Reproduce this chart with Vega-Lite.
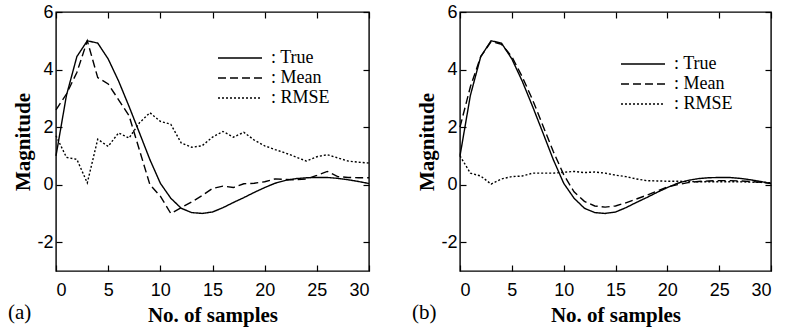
{
  "$schema": "https://vega.github.io/schema/vega-lite/v6.json",
  "padding": {"left": 7, "top": 2, "right": 4, "bottom": 4},
  "background": "white",
  "config": {
    "view": {"stroke": "black", "strokeWidth": 1.4},
    "axis": {
      "labelFont": "Liberation Sans", "labelFontSize": 18, "labelColor": "black",
      "titleFont": "Liberation Serif", "titleFontSize": 21, "titleFontWeight": "bold", "titleColor": "black",
      "tickColor": "black", "tickWidth": 1.2, "tickSize": -6, "domain": false, "grid": false,
      "labelExpr": "'' + datum.value"
    },
    "legend": {
      "orient": "none", "title": null, "padding": 0,
      "symbolType": "stroke", "symbolSize": 1936, "symbolStrokeWidth": 1.6, "symbolStrokeColor": "black",
      "clipHeight": 20, "rowPadding": 0, "labelOffset": 8,
      "labelFont": "Liberation Serif", "labelFontSize": 18, "labelColor": "black"
    },
    "title": {"font": "Liberation Serif", "fontSize": 21, "fontWeight": "normal", "color": "black"}
  },
  "data": {"values": [
    {"p":"a","s":"True","n":0,"v":1.0},{"p":"a","s":"True","n":1,"v":3.1},{"p":"a","s":"True","n":2,"v":4.45},{"p":"a","s":"True","n":3,"v":5.0},{"p":"a","s":"True","n":4,"v":4.92},{"p":"a","s":"True","n":5,"v":4.37},{"p":"a","s":"True","n":6,"v":3.6},{"p":"a","s":"True","n":7,"v":2.72},{"p":"a","s":"True","n":8,"v":1.8},{"p":"a","s":"True","n":9,"v":0.87},{"p":"a","s":"True","n":10,"v":0.05},{"p":"a","s":"True","n":11,"v":-0.47},{"p":"a","s":"True","n":12,"v":-0.82},{"p":"a","s":"True","n":13,"v":-0.97},{"p":"a","s":"True","n":14,"v":-1.0},{"p":"a","s":"True","n":15,"v":-0.95},{"p":"a","s":"True","n":16,"v":-0.8},{"p":"a","s":"True","n":17,"v":-0.62},{"p":"a","s":"True","n":18,"v":-0.45},{"p":"a","s":"True","n":19,"v":-0.27},{"p":"a","s":"True","n":20,"v":-0.1},{"p":"a","s":"True","n":21,"v":0.05},{"p":"a","s":"True","n":22,"v":0.15},{"p":"a","s":"True","n":23,"v":0.21},{"p":"a","s":"True","n":24,"v":0.24},{"p":"a","s":"True","n":25,"v":0.25},{"p":"a","s":"True","n":26,"v":0.25},{"p":"a","s":"True","n":27,"v":0.22},{"p":"a","s":"True","n":28,"v":0.17},{"p":"a","s":"True","n":29,"v":0.11},{"p":"a","s":"True","n":30,"v":0.04},
    {"p":"a","s":"Mean","n":0,"v":2.6},{"p":"a","s":"Mean","n":1,"v":3.15},{"p":"a","s":"Mean","n":2,"v":3.9},{"p":"a","s":"Mean","n":3,"v":5.0},{"p":"a","s":"Mean","n":4,"v":3.72},{"p":"a","s":"Mean","n":5,"v":3.5},{"p":"a","s":"Mean","n":6,"v":2.95},{"p":"a","s":"Mean","n":7,"v":2.4},{"p":"a","s":"Mean","n":8,"v":1.2},{"p":"a","s":"Mean","n":9,"v":0.0},{"p":"a","s":"Mean","n":10,"v":-0.4},{"p":"a","s":"Mean","n":11,"v":-1.0},{"p":"a","s":"Mean","n":12,"v":-0.8},{"p":"a","s":"Mean","n":13,"v":-0.6},{"p":"a","s":"Mean","n":14,"v":-0.38},{"p":"a","s":"Mean","n":15,"v":-0.13},{"p":"a","s":"Mean","n":16,"v":-0.05},{"p":"a","s":"Mean","n":17,"v":-0.1},{"p":"a","s":"Mean","n":18,"v":0.03},{"p":"a","s":"Mean","n":19,"v":0.05},{"p":"a","s":"Mean","n":20,"v":0.1},{"p":"a","s":"Mean","n":21,"v":0.2},{"p":"a","s":"Mean","n":22,"v":0.18},{"p":"a","s":"Mean","n":23,"v":0.17},{"p":"a","s":"Mean","n":24,"v":0.2},{"p":"a","s":"Mean","n":25,"v":0.32},{"p":"a","s":"Mean","n":26,"v":0.46},{"p":"a","s":"Mean","n":27,"v":0.28},{"p":"a","s":"Mean","n":28,"v":0.25},{"p":"a","s":"Mean","n":29,"v":0.24},{"p":"a","s":"Mean","n":30,"v":0.24},
    {"p":"a","s":"RMSE","n":0,"v":1.7},{"p":"a","s":"RMSE","n":1,"v":0.95},{"p":"a","s":"RMSE","n":2,"v":0.88},{"p":"a","s":"RMSE","n":3,"v":0.06},{"p":"a","s":"RMSE","n":4,"v":1.58},{"p":"a","s":"RMSE","n":5,"v":1.33},{"p":"a","s":"RMSE","n":6,"v":1.8},{"p":"a","s":"RMSE","n":7,"v":1.62},{"p":"a","s":"RMSE","n":8,"v":2.15},{"p":"a","s":"RMSE","n":9,"v":2.5},{"p":"a","s":"RMSE","n":10,"v":2.2},{"p":"a","s":"RMSE","n":11,"v":2.1},{"p":"a","s":"RMSE","n":12,"v":1.45},{"p":"a","s":"RMSE","n":13,"v":1.3},{"p":"a","s":"RMSE","n":14,"v":1.35},{"p":"a","s":"RMSE","n":15,"v":1.65},{"p":"a","s":"RMSE","n":16,"v":1.85},{"p":"a","s":"RMSE","n":17,"v":1.65},{"p":"a","s":"RMSE","n":18,"v":1.82},{"p":"a","s":"RMSE","n":19,"v":1.55},{"p":"a","s":"RMSE","n":20,"v":1.35},{"p":"a","s":"RMSE","n":21,"v":1.22},{"p":"a","s":"RMSE","n":22,"v":1.1},{"p":"a","s":"RMSE","n":23,"v":0.96},{"p":"a","s":"RMSE","n":24,"v":0.82},{"p":"a","s":"RMSE","n":25,"v":0.97},{"p":"a","s":"RMSE","n":26,"v":1.04},{"p":"a","s":"RMSE","n":27,"v":0.93},{"p":"a","s":"RMSE","n":28,"v":0.82},{"p":"a","s":"RMSE","n":29,"v":0.78},{"p":"a","s":"RMSE","n":30,"v":0.75},
    {"p":"b","s":"True","n":0,"v":1.0},{"p":"b","s":"True","n":1,"v":3.1},{"p":"b","s":"True","n":2,"v":4.45},{"p":"b","s":"True","n":3,"v":5.0},{"p":"b","s":"True","n":4,"v":4.92},{"p":"b","s":"True","n":5,"v":4.37},{"p":"b","s":"True","n":6,"v":3.6},{"p":"b","s":"True","n":7,"v":2.72},{"p":"b","s":"True","n":8,"v":1.8},{"p":"b","s":"True","n":9,"v":0.87},{"p":"b","s":"True","n":10,"v":0.05},{"p":"b","s":"True","n":11,"v":-0.47},{"p":"b","s":"True","n":12,"v":-0.82},{"p":"b","s":"True","n":13,"v":-0.97},{"p":"b","s":"True","n":14,"v":-1.0},{"p":"b","s":"True","n":15,"v":-0.95},{"p":"b","s":"True","n":16,"v":-0.8},{"p":"b","s":"True","n":17,"v":-0.62},{"p":"b","s":"True","n":18,"v":-0.45},{"p":"b","s":"True","n":19,"v":-0.27},{"p":"b","s":"True","n":20,"v":-0.1},{"p":"b","s":"True","n":21,"v":0.05},{"p":"b","s":"True","n":22,"v":0.15},{"p":"b","s":"True","n":23,"v":0.21},{"p":"b","s":"True","n":24,"v":0.24},{"p":"b","s":"True","n":25,"v":0.25},{"p":"b","s":"True","n":26,"v":0.25},{"p":"b","s":"True","n":27,"v":0.22},{"p":"b","s":"True","n":28,"v":0.17},{"p":"b","s":"True","n":29,"v":0.11},{"p":"b","s":"True","n":30,"v":0.04},
    {"p":"b","s":"Mean","n":0,"v":2.0},{"p":"b","s":"Mean","n":1,"v":3.4},{"p":"b","s":"Mean","n":2,"v":4.45},{"p":"b","s":"Mean","n":3,"v":4.97},{"p":"b","s":"Mean","n":4,"v":4.88},{"p":"b","s":"Mean","n":5,"v":4.45},{"p":"b","s":"Mean","n":6,"v":3.75},{"p":"b","s":"Mean","n":7,"v":2.95},{"p":"b","s":"Mean","n":8,"v":2.05},{"p":"b","s":"Mean","n":9,"v":1.15},{"p":"b","s":"Mean","n":10,"v":0.35},{"p":"b","s":"Mean","n":11,"v":-0.25},{"p":"b","s":"Mean","n":12,"v":-0.58},{"p":"b","s":"Mean","n":13,"v":-0.74},{"p":"b","s":"Mean","n":14,"v":-0.78},{"p":"b","s":"Mean","n":15,"v":-0.74},{"p":"b","s":"Mean","n":16,"v":-0.63},{"p":"b","s":"Mean","n":17,"v":-0.5},{"p":"b","s":"Mean","n":18,"v":-0.37},{"p":"b","s":"Mean","n":19,"v":-0.22},{"p":"b","s":"Mean","n":20,"v":-0.08},{"p":"b","s":"Mean","n":21,"v":0.0},{"p":"b","s":"Mean","n":22,"v":0.07},{"p":"b","s":"Mean","n":23,"v":0.11},{"p":"b","s":"Mean","n":24,"v":0.13},{"p":"b","s":"Mean","n":25,"v":0.14},{"p":"b","s":"Mean","n":26,"v":0.14},{"p":"b","s":"Mean","n":27,"v":0.13},{"p":"b","s":"Mean","n":28,"v":0.11},{"p":"b","s":"Mean","n":29,"v":0.08},{"p":"b","s":"Mean","n":30,"v":0.04},
    {"p":"b","s":"RMSE","n":0,"v":1.0},{"p":"b","s":"RMSE","n":1,"v":0.4},{"p":"b","s":"RMSE","n":2,"v":0.3},{"p":"b","s":"RMSE","n":3,"v":0.02},{"p":"b","s":"RMSE","n":4,"v":0.2},{"p":"b","s":"RMSE","n":5,"v":0.28},{"p":"b","s":"RMSE","n":6,"v":0.3},{"p":"b","s":"RMSE","n":7,"v":0.4},{"p":"b","s":"RMSE","n":8,"v":0.4},{"p":"b","s":"RMSE","n":9,"v":0.4},{"p":"b","s":"RMSE","n":10,"v":0.43},{"p":"b","s":"RMSE","n":11,"v":0.46},{"p":"b","s":"RMSE","n":12,"v":0.42},{"p":"b","s":"RMSE","n":13,"v":0.44},{"p":"b","s":"RMSE","n":14,"v":0.4},{"p":"b","s":"RMSE","n":15,"v":0.33},{"p":"b","s":"RMSE","n":16,"v":0.28},{"p":"b","s":"RMSE","n":17,"v":0.2},{"p":"b","s":"RMSE","n":18,"v":0.14},{"p":"b","s":"RMSE","n":19,"v":0.13},{"p":"b","s":"RMSE","n":20,"v":0.12},{"p":"b","s":"RMSE","n":21,"v":0.12},{"p":"b","s":"RMSE","n":22,"v":0.11},{"p":"b","s":"RMSE","n":23,"v":0.1},{"p":"b","s":"RMSE","n":24,"v":0.1},{"p":"b","s":"RMSE","n":25,"v":0.1},{"p":"b","s":"RMSE","n":26,"v":0.1},{"p":"b","s":"RMSE","n":27,"v":0.1},{"p":"b","s":"RMSE","n":28,"v":0.09},{"p":"b","s":"RMSE","n":29,"v":0.08},{"p":"b","s":"RMSE","n":30,"v":0.07}
  ]},
  "spacing": 38,
  "resolve": {"scale": {"strokeDash": "independent"}, "legend": {"strokeDash": "independent"}},
  "hconcat": [
    {
      "width": 313, "height": 259,
      "title": {"text": "(a)", "orient": "bottom", "anchor": "start", "frame": "bounds", "offset": -23, "dx": -5},
      "transform": [{"filter": "datum.p == 'a'"}],
      "layer": [
        {
          "mark": {"type": "line", "color": "black", "strokeWidth": 1.4},
          "encoding": {
            "x": {"field": "n", "type": "quantitative", "scale": {"domain": [0, 30], "nice": false, "zero": false},
                  "axis": {"values": [0, 5, 10, 15, 20, 25, 30], "title": "No. of samples", "labelPadding": 16, "titlePadding": 5}},
            "y": {"field": "v", "type": "quantitative", "scale": {"domain": [-3, 6], "nice": false, "zero": false},
                  "axis": {"values": [-2, 0, 2, 4, 6], "title": "Magnitude", "labelPadding": 9, "titlePadding": 3}},
            "strokeDash": {"field": "s", "type": "nominal",
                  "scale": {"domain": ["True", "Mean", "RMSE"], "range": [[1, 0], [8, 4], [2, 2]]},
                  "legend": {"legendX": 161, "legendY": 36, "labelExpr": "': ' + datum.label"}}
          }
        },
        {
          "mark": {"type": "line", "strokeOpacity": 0},
          "encoding": {
            "x": {"field": "n", "type": "quantitative", "axis": {"orient": "top", "values": [0, 5, 10, 15, 20, 25, 30], "labels": false, "title": null}},
            "y": {"field": "v", "type": "quantitative", "axis": {"orient": "right", "values": [-2, 0, 2, 4, 6], "labels": false, "title": null}},
            "detail": {"field": "s"}
          }
        }
      ],
      "resolve": {"axis": {"x": "independent", "y": "independent"}}
    },
    {
      "width": 311, "height": 259,
      "title": {"text": "(b)", "orient": "bottom", "anchor": "start", "frame": "bounds", "offset": -23, "dx": -5},
      "transform": [{"filter": "datum.p == 'b'"}],
      "layer": [
        {
          "mark": {"type": "line", "color": "black", "strokeWidth": 1.4},
          "encoding": {
            "x": {"field": "n", "type": "quantitative", "scale": {"domain": [0, 30], "nice": false, "zero": false},
                  "axis": {"values": [0, 5, 10, 15, 20, 25, 30], "title": "No. of samples", "labelPadding": 16, "titlePadding": 5}},
            "y": {"field": "v", "type": "quantitative", "scale": {"domain": [-3, 6], "nice": false, "zero": false},
                  "axis": {"values": [-2, 0, 2, 4, 6], "title": "Magnitude", "labelPadding": 9, "titlePadding": 3}},
            "strokeDash": {"field": "s", "type": "nominal",
                  "scale": {"domain": ["True", "Mean", "RMSE"], "range": [[1, 0], [8, 4], [2, 2]]},
                  "legend": {"legendX": 160, "legendY": 42, "labelExpr": "': ' + datum.label"}}
          }
        },
        {
          "mark": {"type": "line", "strokeOpacity": 0},
          "encoding": {
            "x": {"field": "n", "type": "quantitative", "axis": {"orient": "top", "values": [0, 5, 10, 15, 20, 25, 30], "labels": false, "title": null}},
            "y": {"field": "v", "type": "quantitative", "axis": {"orient": "right", "values": [-2, 0, 2, 4, 6], "labels": false, "title": null}},
            "detail": {"field": "s"}
          }
        }
      ],
      "resolve": {"axis": {"x": "independent", "y": "independent"}}
    }
  ]
}
